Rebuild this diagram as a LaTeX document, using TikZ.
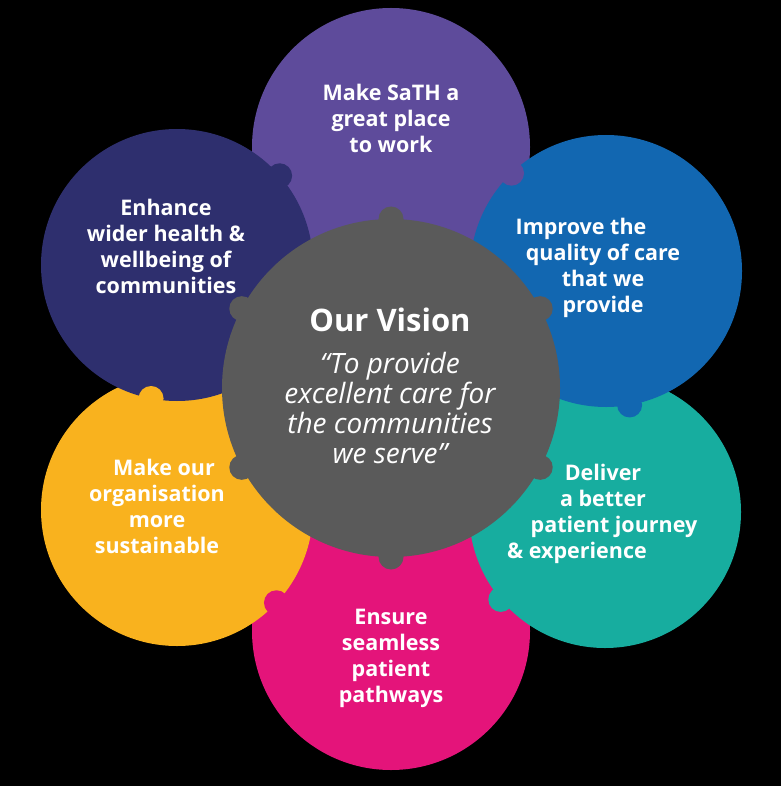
\documentclass[tikz,border=0pt]{standalone}
\usepackage{fontspec}
\setmainfont{Open Sans}
\definecolor{sathpurple}{HTML}{5E4B9B}
\definecolor{sathnavy}{HTML}{2E2F6E}
\definecolor{sathblue}{HTML}{1267B1}
\definecolor{sathteal}{HTML}{17AD9F}
\definecolor{sathpink}{HTML}{E4147A}
\definecolor{sathyellow}{HTML}{F9B21E}
\definecolor{sathgray}{HTML}{5A5A5A}
\tikzset{
  petal/.style={circle,inner sep=0pt,outer sep=0pt,minimum size=272pt},
  big petal/.style={petal,minimum size=278pt},
  knob/.style={circle,inner sep=0pt,outer sep=0pt,minimum size=25pt},
  hub/.style={circle,fill=sathgray,inner sep=0pt,outer sep=0pt,minimum size=338pt},
  label/.style={text=white,align=center,font=\bfseries\fontsize{21.5}{26}\selectfont},
  quote/.style={text=white,align=center,font=\itshape\fontsize{28}{30}\selectfont}
}
\begin{document}
\begin{tikzpicture}[x=1pt,y=-1pt]
  \fill[black] (0,0) rectangle (781,786);
  \useasboundingbox (0,0) rectangle (781,786);
  % lower petals first
  \node[big petal,fill=sathpurple] (work) at (391,147) {};
  \node[big petal,fill=sathpink] (pathways) at (391,631) {};
  \node[petal,fill=sathyellow] (sustain) at (177,510) {};
  \node[petal,fill=sathteal] (journey) at (605,512) {};
  \node[petal,fill=sathnavy] (wellbeing) at (177,265) {};
  \node[petal,fill=sathblue] (quality) at (606,271) {};
  % jigsaw knobs
  \node[knob,fill=sathnavy] (k1) at (wellbeing.41) {};
  \node[knob,fill=sathpurple] (k2) at (quality.134) {};
  \node[knob,fill=sathyellow] (k3) at (wellbeing.259) {};
  \node[knob,fill=sathblue] (k4) at (quality.280) {};
  \node[knob,fill=sathpink] (k5) at (sustain.-43) {};
  \node[knob,fill=sathteal] (k6) at (journey.220) {};
  % centre
  \node[hub] (vision) at (391,388) {};
  \foreach \a in {90,28,-28,-90,-152,152}
    \node[knob,fill=sathgray] (h\a) at (vision.\a) {};
  % texts
  \node[label] (tw) at (391,118) {Make SaTH a\\great place\\to work};
  \node[label] (tn) at (166,246) {Enhance\\wider health \&\\wellbeing of\\communities};
  \node[label] (tb) at (603,268) {\hspace*{-44pt}Improve the\\quality of care\\that we\\provide};
  \node[label] (ty) at (157,506) {\hspace*{14pt}Make our\\organisation\\more\\sustainable};
  \node[label] (tt) at (603,514) {Deliver\\a better\\\hspace*{22pt}patient journey\\\hspace*{-52pt}\& experience};
  \node[label] (tp) at (391,658) {Ensure\\seamless\\patient\\pathways};
  \node[text=white,font=\bfseries\fontsize{31}{36}\selectfont] (title) at (390,320) {Our Vision};
  \node[quote] (tq) at (390,408) {“To provide\\excellent care for\\the communities\\we serve”};
\end{tikzpicture}
\end{document}
